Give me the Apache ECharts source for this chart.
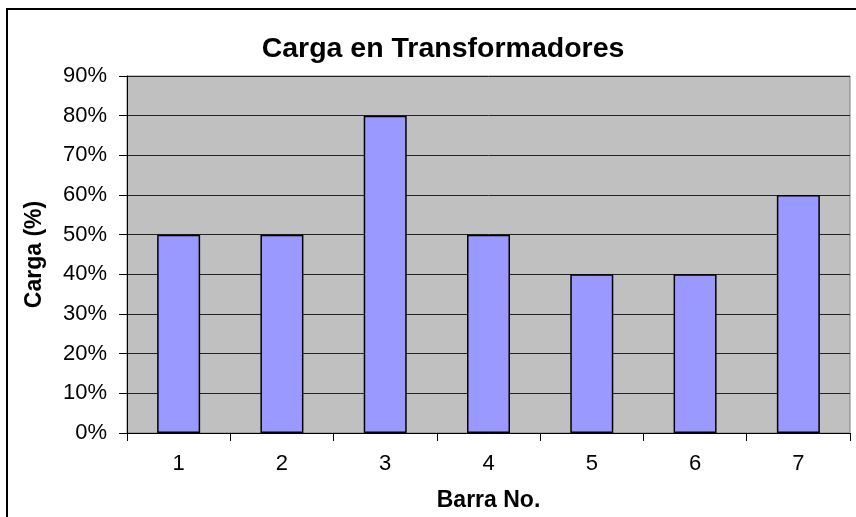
<!DOCTYPE html>
<html>
<head>
<meta charset="utf-8">
<script src="https://cdn.jsdelivr.net/npm/echarts@6/dist/echarts.min.js"></script>
<style>
  html, body { margin: 0; padding: 0; background: #fff; }
  #chart { width: 856px; height: 517px; }
</style>
</head>
<body>
<div id="chart"></div>
<script>
// datos del grafico
var barras = ["1", "2", "3", "4", "5", "6", "7"];
var carga = [50, 50, 80, 50, 40, 40, 60];

var chart = echarts.init(document.getElementById("chart"));
var fuente = "'Liberation Sans', Arial, sans-serif";

var option = {
  backgroundColor: "#ffffff",
  animation: false,
  title: {
    text: "Carga en Transformadores",
    left: 438,
    textAlign: "center",
    top: 30,
    textStyle: { fontFamily: fuente, fontSize: 28.5, fontWeight: "bold", color: "#000" },
  },
  graphic: [
    {
      type: "rect",
      shape: { x: 7, y: 9, width: 870, height: 530 },
      style: { fill: "none", stroke: "#000", lineWidth: 2 },
      silent: true,
    },
  ],
  grid: {
    left: 127,
    top: 76,
    right: 6,
    bottom: 84,
    show: true,
    backgroundColor: "#C0C0C0",
    borderColor: "#808080",
    borderWidth: 1,
  },
  xAxis: {
    type: "category",
    data: barras,
    name: "Barra No.",
    nameLocation: "middle",
    nameGap: 56,
    nameTextStyle: { fontFamily: fuente, fontSize: 23, fontWeight: "bold", color: "#000" },
    axisLine: { lineStyle: { color: "#000", width: 1 } },
    axisTick: { show: true, length: 8, lineStyle: { color: "#000" } },
    axisLabel: { margin: 20, fontFamily: fuente, fontSize: 22, color: "#000" },
  },
  yAxis: {
    type: "value",
    min: 0,
    max: 90,
    interval: 10,
    name: "Carga (%)",
    nameLocation: "middle",
    nameGap: 81,
    nameTextStyle: { fontFamily: fuente, fontSize: 23, fontWeight: "bold", color: "#000" },
    axisLine: { show: true, lineStyle: { color: "#000", width: 1 } },
    axisTick: { show: true, length: 8, lineStyle: { color: "#000" } },
    axisLabel: { margin: 20, fontFamily: fuente, fontSize: 22, color: "#000", formatter: "{value}%" },
    splitLine: { show: true, lineStyle: { color: "#222", width: 1 } },
  },
  series: [
    {
      type: "bar",
      data: carga,
      barWidth: 43,
      itemStyle: { color: "#9999FF", borderColor: "#000", borderWidth: 1.5 },
    },
  ],
};

chart.setOption(option);
</script>
</body>
</html>
